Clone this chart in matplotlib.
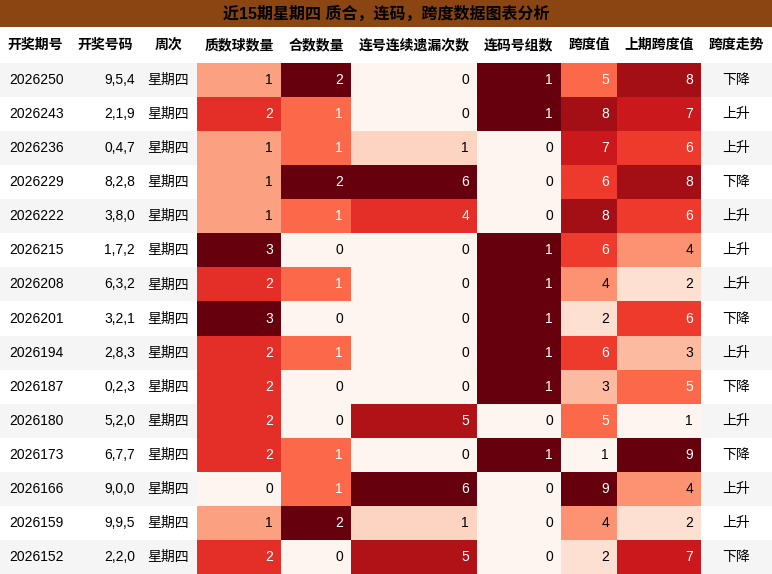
import matplotlib
matplotlib.use("Agg")
import matplotlib.pyplot as plt
from matplotlib.patches import Rectangle
from matplotlib import cm, colors

plt.rcParams['font.family'] = ['Liberation Sans', 'Noto Sans CJK SC', 'DejaVu Sans']

title = "近15期星期四 质合，连码，跨度数据图表分析"
headers = ["开奖期号", "开奖号码", "周次", "质数球数量", "合数数量", "连号连续遗漏次数", "连码号组数", "跨度值", "上期跨度值", "跨度走势"]
issues = ["2026250","2026243","2026236","2026229","2026222","2026215","2026208","2026201","2026194","2026187","2026180","2026173","2026166","2026159","2026152"]
numbers = ["9,5,4","2,1,9","0,4,7","8,2,8","3,8,0","1,7,2","6,3,2","3,2,1","2,8,3","0,2,3","5,2,0","6,7,7","9,0,0","9,9,5","2,2,0"]
weekday = ["星期四"] * 15
primes = [1,2,1,1,1,3,2,3,2,2,2,2,0,1,2]
composites = [2,1,1,2,1,0,1,0,1,0,0,1,1,2,0]
miss = [0,0,1,6,4,0,0,0,0,0,5,0,6,1,5]
groups = [1,1,0,0,0,1,1,1,1,1,0,1,0,0,0]
span = [5,8,7,6,8,6,4,2,6,3,5,1,9,4,2]
prev_span = [8,7,6,8,6,4,2,6,3,5,1,9,4,2,7]
trend = ["下降","上升","上升","下降","上升","上升","上升","下降","上升","下降","上升","下降","上升","上升","下降"]

W, H = 772, 574
fig = plt.figure(figsize=(W/100, H/100), dpi=100)
ax = fig.add_axes([0, 0, 1, 1])
ax.set_xlim(0, W); ax.set_ylim(H, 0); ax.axis('off')

xs = [0, 70, 140, 197, 281, 351, 477, 561, 617, 701, 772]
title_h, head_top, head_bot = 27, 27, 63
row_h = (H - head_bot) / 15

ax.add_patch(Rectangle((0, 0), W, title_h, color='#8B4513', lw=0))
ax.text(W/2, title_h/2, title, ha='center', va='center', fontsize=11.5, fontweight='bold', color='black')
for j, h in enumerate(headers):
    ax.text((xs[j]+xs[j+1])/2, (head_top+head_bot)/2, h, ha='center', va='center', fontsize=10, fontweight='bold')

cols = [issues, numbers, weekday, primes, composites, miss, groups, span, prev_span, trend]
cmap = cm.get_cmap('Reds')
for i in range(15):
    y0 = head_bot + i*row_h
    yc = y0 + row_h/2
    bg = '#f5f5f5' if i % 2 == 0 else 'white'
    ax.add_patch(Rectangle((0, y0), W, row_h, color=bg, lw=0))
    for j, col in enumerate(cols):
        v = col[i]
        x0, x1 = xs[j], xs[j+1]
        tc = 'black'
        if 3 <= j <= 8:
            lo, hi = min(col), max(col)
            t = (v - lo) / (hi - lo)
            ax.add_patch(Rectangle((x0, y0), x1-x0, row_h, color=cmap(t), lw=0))
            if t > 0.45:
                tc = 'white'
            ax.text(x1-8, yc, str(v), ha='right', va='center', fontsize=10, color=tc)
        elif j == 0:
            ax.text(x0+9, yc, v, ha='left', va='center', fontsize=10)
        elif j == 1:
            ax.text(x1-5, yc, v, ha='right', va='center', fontsize=10)
        else:
            ax.text((x0+x1)/2, yc, v, ha='center', va='center', fontsize=10)

fig.savefig('out.png', dpi=100)
